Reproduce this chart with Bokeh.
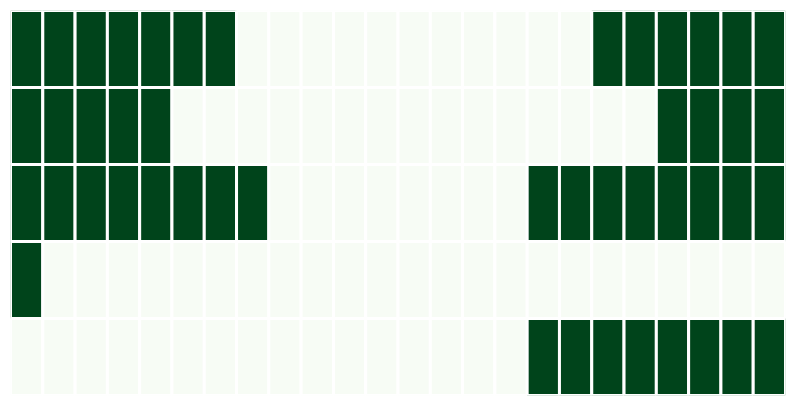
from bokeh.plotting import figure
from bokeh.models import ColumnDataSource, LinearColorMapper, Range1d
from bokeh.embed import file_html
from bokeh.resources import INLINE

hours = list(range(24))
row_labels = ["A", "B", "C", "D", "E"]
row_a = [1]*7 + [0]*11 + [1]*6
row_b = [1]*5 + [0]*15 + [1]*4
row_c = [1]*8 + [0]*8 + [1]*8
row_d = [1] + [0]*23
row_e = [0]*16 + [1]*8
rows = [row_a, row_b, row_c, row_d, row_e]

xs, ys, vals = [], [], []
for i, r in enumerate(rows):
    for h, v in zip(hours, r):
        xs.append(h + 0.5)
        ys.append(len(rows) - i - 0.5)
        vals.append(v)

src = ColumnDataSource(dict(x=xs, y=ys, v=vals))
mapper = LinearColorMapper(palette=["#f7fcf5", "#00441b"], low=0, high=1)

p = figure(width=794, height=405, output_backend="svg", toolbar_location=None,
           x_range=Range1d(0, 24), y_range=Range1d(0, 5),
           min_border_left=10, min_border_right=9, min_border_top=10, min_border_bottom=10)
p.rect(x="x", y="y", width=1, height=1, source=src,
       fill_color={"field": "v", "transform": mapper},
       line_color="white", line_width=3)
p.axis.visible = False
p.grid.visible = False
p.outline_line_color = None
p.background_fill_color = "white"

open("out.html", "w").write(file_html(p, INLINE))
